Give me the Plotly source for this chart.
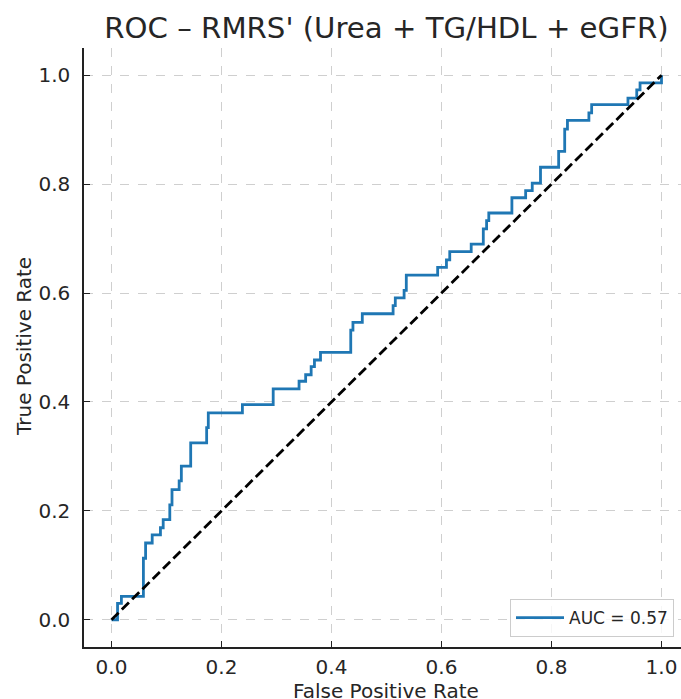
import plotly.graph_objects as go

# ROC corner points (top of each vertical jump)
fpr = [0.0, 0.011, 0.018, 0.058, 0.062, 0.074, 0.089, 0.094, 0.106, 0.110,
       0.123, 0.127, 0.144, 0.173, 0.176, 0.238, 0.294, 0.341, 0.353, 0.363,
       0.369, 0.380, 0.435, 0.439, 0.456, 0.512, 0.516, 0.532, 0.536, 0.593,
       0.609, 0.615, 0.654, 0.676, 0.682, 0.686, 0.728, 0.753, 0.765, 0.780,
       0.813, 0.824, 0.829, 0.868, 0.873, 0.939, 0.955, 0.961, 1.0]
tpr = [0.0, 0.030, 0.043, 0.113, 0.141, 0.156, 0.169, 0.184, 0.211, 0.239,
       0.255, 0.282, 0.325, 0.353, 0.380, 0.395, 0.424, 0.438, 0.450, 0.465,
       0.477, 0.491, 0.532, 0.546, 0.562, 0.577, 0.591, 0.605, 0.633, 0.647,
       0.661, 0.676, 0.690, 0.718, 0.733, 0.747, 0.775, 0.788, 0.802, 0.831,
       0.860, 0.901, 0.917, 0.931, 0.946, 0.958, 0.973, 0.986, 1.0]
chance_x = [0.0, 1.0]
chance_y = [0.0, 1.0]
auc_label = "AUC = 0.57"
title_text = "ROC – RMRS' (Urea + TG/HDL + eGFR)"
tick_vals = [0.0, 0.2, 0.4, 0.6, 0.8, 1.0]
tick_text = ["0.0", "0.2", "0.4", "0.6", "0.8", "1.0"]

FONT = "DejaVu Sans"
TXT = "#262626"

fig = go.Figure()
fig.add_trace(go.Scatter(x=fpr, y=tpr, mode="lines", line_shape="hv",
                         line=dict(color="#1f77b4", width=2.8),
                         name=auc_label, showlegend=True))
fig.add_trace(go.Scatter(x=chance_x, y=chance_y, mode="lines",
                         line=dict(color="black", width=2.8, dash="10px,4.5px"),
                         showlegend=False))

W, H = 681, 699
L, R, T, B = 84, 0, 48, 52
pw = W - L - R
ph = H - T - B

axis_common = dict(
    showline=True, linecolor="#222222", linewidth=1.5, mirror=False,
    ticks="inside", ticklen=6, tickwidth=1.3, tickcolor="#222222",
    showgrid=True, gridcolor="#cfcfcf", gridwidth=1, griddash="dash",
    zeroline=False, tickvals=tick_vals, ticktext=tick_text, automargin=False,
    tickfont=dict(family=FONT, size=20, color=TXT),
)

fig.update_layout(
    width=W, height=H,
    margin=dict(l=L, r=R, t=T, b=B, pad=0, autoexpand=False),
    paper_bgcolor="white", plot_bgcolor="white",
    font=dict(family=FONT, color=TXT),
    title=dict(text=title_text, font=dict(family=FONT, size=29.2, color=TXT),
               xref="paper", x=(386.5 - L) / pw, xanchor="center",
               yref="container", y=1 - 27.5 / H, yanchor="middle", automargin=False),
    xaxis=dict(range=[-0.05, -0.05 + pw / 550.0], ticklabelstandoff=1, **axis_common),
    yaxis=dict(range=[-0.05, 1.05], ticklabelstandoff=8, **axis_common),
    legend=dict(x=(674 - L) / pw, xanchor="right", y=(647 - 637) / ph, yanchor="bottom",
                bgcolor="rgba(255,255,255,0.8)", bordercolor="#cccccc", borderwidth=1,
                itemwidth=48,
                font=dict(family=FONT, size=17, color=TXT)),
    showlegend=True,
)

fig.add_annotation(text="False Positive Rate", xref="paper", yref="paper",
                   x=(386 - L) / pw, y=-(691 - 647) / ph, xanchor="center", yanchor="middle",
                   showarrow=False, font=dict(family=FONT, size=20, color=TXT))
fig.add_annotation(text="True Positive Rate", xref="paper", yref="paper",
                   x=-(84 - 24) / pw, y=(647 - 347) / ph, xanchor="center", yanchor="middle",
                   textangle=-90, showarrow=False, font=dict(family=FONT, size=20, color=TXT))

fig.write_html("out.html", config={"displayModeBar": False},
               post_script="document.body.style.margin='0px';document.body.style.overflow='hidden';")
